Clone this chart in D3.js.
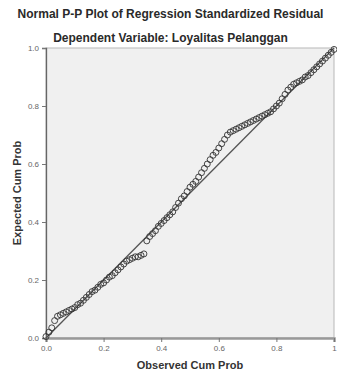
<!DOCTYPE html>
<html>
<head>
<meta charset="utf-8">
<script src="https://cdn.jsdelivr.net/npm/d3@7"></script>
<style>
  body { margin: 0; background: #fff; }
  text { font-family: "Liberation Sans", Arial, sans-serif; }
</style>
</head>
<body>
<div id="my_dataviz"></div>
<script>
// chart texts
const title1 = "Normal P-P Plot of Regression Standardized Residual"
const title2 = "Dependent Variable: Loyalitas Pelanggan"
const xTitle = "Observed Cum Prob"
const yTitle = "Expected Cum Prob"

// tick values and labels
const xTicks = [0, 0.2, 0.4, 0.6, 0.8, 1]
const xTickLabels = ["0.0", "0.2", "0.4", "0.6", "0.8", "1"]
const yTicks = [0, 0.2, 0.4, 0.6, 0.8, 1]
const yTickLabels = ["0.0", "0.2", "0.4", "0.6", "0.8", "1.0"]

// observed vs expected cumulative probabilities
const observed = [0.00, 0.01, 0.02, 0.03, 0.04, 0.05, 0.06, 0.07, 0.08, 0.09,
  0.10, 0.11, 0.12, 0.13, 0.14, 0.15, 0.16, 0.17, 0.18, 0.19,
  0.20, 0.21, 0.22, 0.23, 0.24, 0.25, 0.26, 0.27, 0.28, 0.29,
  0.30, 0.31, 0.32, 0.33, 0.34, 0.35, 0.36, 0.37, 0.38, 0.39,
  0.40, 0.41, 0.42, 0.43, 0.44, 0.45, 0.46, 0.47, 0.48, 0.49,
  0.50, 0.51, 0.52, 0.53, 0.54, 0.55, 0.56, 0.57, 0.58, 0.59,
  0.60, 0.61, 0.62, 0.63, 0.64, 0.65, 0.66, 0.67, 0.68, 0.69,
  0.70, 0.71, 0.72, 0.73, 0.74, 0.75, 0.76, 0.77, 0.78, 0.79,
  0.80, 0.81, 0.82, 0.83, 0.84, 0.85, 0.86, 0.87, 0.88, 0.89,
  0.90, 0.91, 0.92, 0.93, 0.94, 0.95, 0.96, 0.97, 0.98, 0.99, 1.00]
const expected = [0.005, 0.02, 0.035, 0.06, 0.075, 0.08, 0.085, 0.09, 0.095, 0.10,
  0.105, 0.115, 0.12, 0.13, 0.14, 0.15, 0.16, 0.165, 0.175, 0.185,
  0.19, 0.20, 0.21, 0.215, 0.225, 0.235, 0.245, 0.255, 0.265, 0.27,
  0.275, 0.28, 0.28, 0.285, 0.29, 0.335, 0.35, 0.36, 0.37, 0.385,
  0.395, 0.405, 0.415, 0.425, 0.435, 0.45, 0.465, 0.48, 0.49, 0.505,
  0.52, 0.53, 0.54, 0.555, 0.57, 0.585, 0.60, 0.615, 0.63, 0.64,
  0.655, 0.67, 0.685, 0.70, 0.71, 0.715, 0.72, 0.725, 0.73, 0.735,
  0.74, 0.745, 0.75, 0.755, 0.76, 0.765, 0.77, 0.775, 0.78, 0.79,
  0.80, 0.81, 0.825, 0.84, 0.855, 0.865, 0.875, 0.88, 0.885, 0.89,
  0.90, 0.905, 0.915, 0.925, 0.935, 0.945, 0.955, 0.965, 0.975, 0.985, 0.995]

const data = observed.map((d, i) => ({x: d, y: expected[i]}))

// set the dimensions and margins of the graph
const W = 337, H = 376
const margin = {top: 48, right: 3, bottom: 38, left: 46},
      width = W - margin.left - margin.right,
      height = H - margin.top - margin.bottom

const root = d3.select("#my_dataviz")
  .append("svg")
  .attr("width", W)
  .attr("height", H)

// titles
root.append("text")
  .attr("x", W / 2 + 2).attr("y", 18)
  .attr("text-anchor", "middle")
  .style("font-size", "12px").style("font-weight", "bold").style("fill", "#2a2a2a")
  .text(title1)
root.append("text")
  .attr("x", W / 2 + 2).attr("y", 42)
  .attr("text-anchor", "middle")
  .style("font-size", "12px").style("font-weight", "bold").style("fill", "#2a2a2a")
  .text(title2)

const svg = root.append("g")
  .attr("transform", `translate(${margin.left}, ${margin.top})`)

const x = d3.scaleLinear().domain([0, 1]).range([0, width])
const y = d3.scaleLinear().domain([0, 1]).range([height, 0])

// plot background
svg.append("rect")
  .attr("x", 0).attr("y", 0)
  .attr("width", width).attr("height", height)
  .style("fill", "#f0f0f0")
  .style("stroke", "#b8b8b8")

// x axis
const xAxis = svg.append("g")
  .attr("transform", `translate(0, ${height})`)
  .call(d3.axisBottom(x).tickValues(xTicks).tickSize(4)
    .tickFormat((d, i) => xTickLabels[i]))
xAxis.select(".domain").attr("stroke", "#999").attr("stroke-width", 2.5)
xAxis.selectAll(".tick line").attr("stroke", "#777")
xAxis.selectAll(".tick text")
  .style("font-size", "8px").style("fill", "#666")
  .attr("dy", "0.8em")

// y axis
const yAxis = svg.append("g")
  .call(d3.axisLeft(y).tickValues(yTicks).tickSize(4)
    .tickFormat((d, i) => yTickLabels[i]))
yAxis.select(".domain").attr("stroke", "#666").attr("stroke-width", 1.3)
yAxis.selectAll(".tick line").attr("stroke", "#777")
yAxis.selectAll(".tick text")
  .style("font-size", "8px").style("fill", "#666")

// axis titles
root.append("text")
  .attr("x", margin.left + width / 2).attr("y", 369)
  .attr("text-anchor", "middle")
  .style("font-size", "11px").style("font-weight", "bold").style("fill", "#333")
  .text(xTitle)
root.append("text")
  .attr("transform", `translate(21, ${margin.top + height / 2}) rotate(-90)`)
  .attr("text-anchor", "middle")
  .style("font-size", "11px").style("font-weight", "bold").style("fill", "#333")
  .text(yTitle)

// reference diagonal
svg.append("line")
  .attr("x1", x(0)).attr("y1", y(0))
  .attr("x2", x(1)).attr("y2", y(1))
  .style("stroke", "#555")
  .style("stroke-width", 1.3)

// points
svg.append("g")
  .selectAll("circle")
  .data(data)
  .join("circle")
    .attr("cx", d => x(d.x))
    .attr("cy", d => y(d.y))
    .attr("r", 3)
    .style("fill", "none")
    .style("stroke", "#333")
    .style("stroke-width", 0.9)
</script>
</body>
</html>
